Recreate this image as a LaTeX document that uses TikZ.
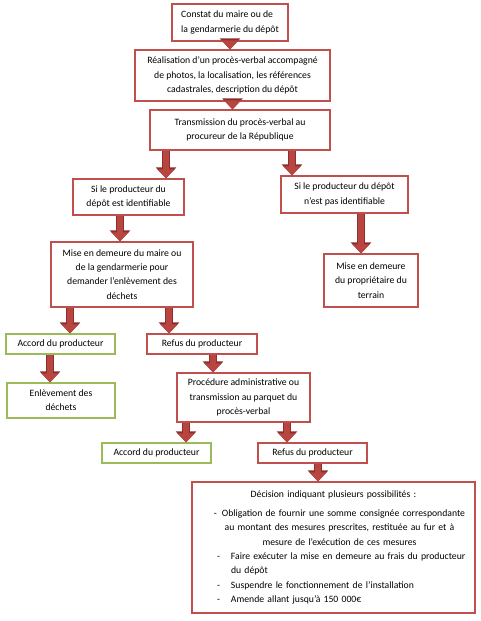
\documentclass[tikz,border=0pt]{standalone}
\usepackage{fontspec}
\setmainfont{Carlito}
\usepackage{xcolor}
\usepackage{tikz}
\usetikzlibrary{arrows.meta,shadows}

\definecolor{boxred}{HTML}{C0504D}
\definecolor{boxgreen}{HTML}{9BBB59}
\definecolor{arrowred}{HTML}{B8453F}
\definecolor{arrowdark}{HTML}{8C2E2B}

\begin{document}
\begin{tikzpicture}[x=1pt, y=-1pt,
    every node/.style={font=\fontsize{9.7}{14.3}\selectfont},
    redbox/.style={draw=boxred, line width=1.3pt, fill=white, inner sep=2pt,
        drop shadow={shadow xshift=1.2pt, shadow yshift=-1.2pt, opacity=0.3}},
    greenbox/.style={redbox, draw=boxgreen},
    blk/.style={draw=arrowred, line width=6.5pt, -{Triangle[width=17pt,length=9pt]},
        preaction={draw=arrowdark, line width=8.5pt, -{Triangle[width=20pt,length=11pt]}}}]
    \fill[white] (0,0) rectangle (480,621);
    \useasboundingbox (0,0) rectangle (480,621);

    % Top of the chain
    \node[redbox, minimum width=116, minimum height=37, align=left] (constat) at (230,22.5) {Constat du maire ou de\\
        la gendarmerie du dépôt};
    \node[redbox, minimum width=195, minimum height=51, align=center] (pv) at (232.5,75.5) {Réalisation d'un procès-verbal accompagné\\
        de photos, la localisation, les références\\
        cadastrales, description du dépôt};
    \node[redbox, minimum width=180, minimum height=40, align=center] (trans) at (240,130) {Transmission du procès-verbal au\\
        procureur de la République};

    % Two cases
    \node[redbox, minimum width=111, minimum height=36, align=center] (ident) at (128.5,197) {Si le producteur du\\
        dépôt est identifiable};
    \node[redbox, minimum width=127, minimum height=37, align=center] (nonident) at (344.5,194.5) {Si le producteur du dépôt\\
        n'est pas identifiable};
    \node[redbox, minimum width=142, minimum height=65, align=center] (demeure) at (122,274.5) {Mise en demeure du maire ou\\
        de la gendarmerie pour\\
        demander l'enlèvement des\\
        déchets};
    \node[redbox, minimum width=94, minimum height=53, align=center] (proprio) at (371,280.5) {Mise en demeure\\
        du propriétaire du\\
        terrain};

    % Answer of the producer
    \node[greenbox, minimum width=109, minimum height=20] (accord1) at (60.5,344) {Accord du producteur};
    \node[redbox, minimum width=110, minimum height=20] (refus1) at (202,344) {Refus du producteur};
    \node[greenbox, minimum width=108, minimum height=35, align=center] (enlev) at (61,400.5) {Enlèvement des\\
        déchets};
    \node[redbox, minimum width=133, minimum height=49, align=center] (proc) at (243.5,397.5) {Procédure administrative ou\\
        transmission au parquet du\\
        procès-verbal};
    \node[greenbox, minimum width=109, minimum height=20] (accord2) at (156.5,453) {Accord du producteur};
    \node[redbox, minimum width=109, minimum height=20] (refus2) at (312.5,453) {Refus du producteur};

    % Final decision
    \node[redbox, minimum width=283, minimum height=131, inner xsep=4pt, text width=275pt] (decision) at (333.5,547.5) {%
        \hyphenpenalty=10000
        {\centering Décision indiquant plusieurs possibilités :\par}
        \vspace{4.5pt}
        {\leftskip=12pt plus 1fil \rightskip=0pt plus 1fil \parfillskip=0pt
        -\hspace{5pt}Obligation de fournir une somme consignée correspondante\\
        au montant des mesures prescrites, restituée au fur et à\\
        mesure de l'exécution de ces mesures\par}
        \raggedright
        \noindent\makebox[35pt][l]{\hspace{21pt}-}Faire exécuter la mise en demeure au frais du producteur\\
        \hspace*{35pt}du dépôt\par
        \noindent\makebox[35pt][l]{\hspace{21pt}-}Suspendre le fonctionnement de l'installation\par
        \noindent\makebox[35pt][l]{\hspace{21pt}-}Amende allant jusqu'à 150 000€\par};

    % Arrows down the chain
    \draw[blk] (constat.south) -- (constat.south |- pv.north);
    \draw[blk] (pv.south) -- (pv.south |- trans.north);
    \draw[blk] ([xshift=-74]trans.south) -- ([xshift=-74]trans.south |- ident.north);
    \draw[blk] ([xshift=52]trans.south) -- ([xshift=52]trans.south |- nonident.north);
    \draw[blk] ([xshift=-8.5]ident.south) -- ([xshift=-8.5]ident.south |- demeure.north);
    \draw[blk] ([xshift=16.5]nonident.south) -- ([xshift=16.5]nonident.south |- proprio.north);
    \draw[blk] ([xshift=-52]demeure.south) -- ([xshift=-52]demeure.south |- accord1.north);
    \draw[blk] ([xshift=47]demeure.south) -- ([xshift=47]demeure.south |- refus1.north);
    \draw[blk] ([xshift=-10.5]accord1.south) -- ([xshift=-10.5]accord1.south |- enlev.north);
    \draw[blk] ([xshift=11]refus1.south) -- ([xshift=11]refus1.south |- proc.north);
    \draw[blk] ([xshift=-57.5]proc.south) -- ([xshift=-57.5]proc.south |- accord2.north);
    \draw[blk] ([xshift=43.5]proc.south) -- ([xshift=43.5]proc.south |- refus2.north);
    \draw[blk] ([xshift=5.5]refus2.south) -- ([xshift=5.5]refus2.south |- decision.north);
\end{tikzpicture}
\end{document}
